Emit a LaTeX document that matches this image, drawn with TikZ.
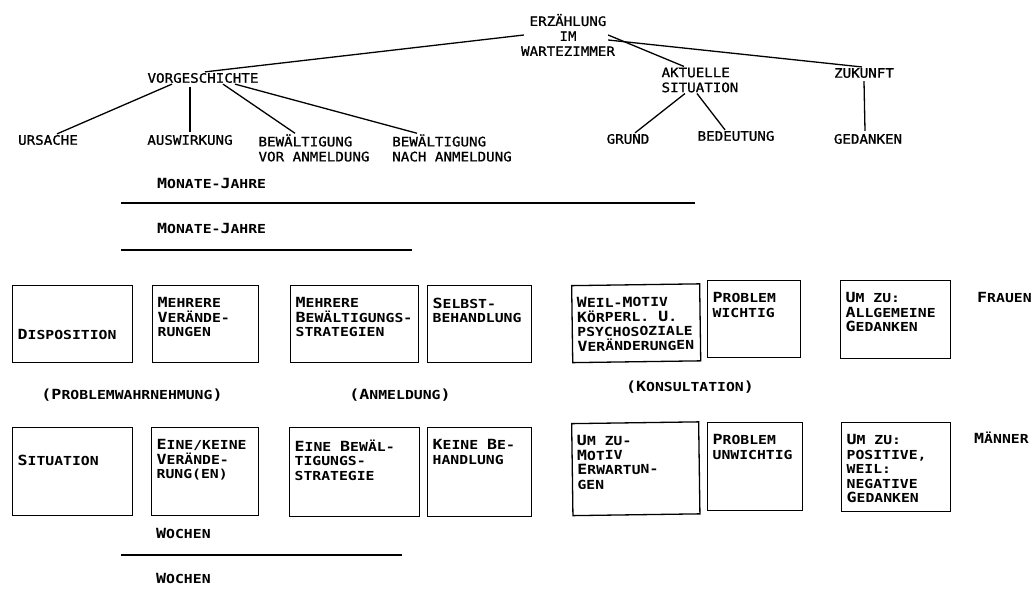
\documentclass[tikz,border=0pt]{standalone}
\usepackage{fontspec}
\usepackage{tikz}
\usetikzlibrary{positioning, calc}
\newfontfamily\treefont[FakeStretch=1.09, FakeBold=1]{DejaVu Sans Mono}
\newfontfamily\boxfont[FakeStretch=1.19]{DejaVu Sans Mono}
% fake small caps: bigger first letters
\newcommand{\C}[1]{{\fontsize{14}{14.5}\selectfont #1}}
% box content: total width, total height, text
\newcommand{\boxtext}[3]{\parbox[c][\dimexpr#2pt-24pt][t]{\dimexpr#1pt-10pt}{\raggedright #3}}

\begin{document}
\begin{tikzpicture}[x=1pt, y=-1pt,
    tree/.style={font=\treefont\fontsize{13}{15}\selectfont, inner sep=1pt},
    label/.style={font=\boxfont\bfseries\fontsize{12.4}{14.5}\selectfont, inner sep=1pt},
    box/.style={draw, line width=1.3pt, anchor=north west, inner xsep=5pt, inner ysep=12pt,
                font=\boxfont\bfseries\fontsize{12.4}{14.5}\selectfont},
    edge/.style={line width=1.3pt},
    rule/.style={line width=1.4pt}]
  \useasboundingbox (0,0) rectangle (1034,591);

  % Tree
  \node[tree, align=center] (root) at (568,35) {ERZÄHLUNG\\IM\\WARTEZIMMER};
  \node[tree] (vorg) at (203,78) {VORGESCHICHTE};
  \node[tree, align=left] (akt) at (700,80) {AKTUELLE\\SITUATION};
  \node[tree] (zuk) at (864,73) {ZUKUNFT};

  \node[tree] (urs) at (48,140) {URSACHE};
  \node[tree] (ausw) at (190,140) {AUSWIRKUNG};
  \node[tree, align=left] (bewvor) at (314,148) {BEWÄLTIGUNG\\VOR ANMELDUNG};
  \node[tree, align=left] (bewnach) at (452,148) {BEWÄLTIGUNG\\NACH ANMELDUNG};
  \node[tree] (grund) at (628,139) {GRUND};
  \node[tree] (bed) at (736,136) {BEDEUTUNG};
  \node[tree] (ged) at (868,139) {GEDANKEN};

  \draw[edge] ([xshift=4pt]root.west) -- ([xshift=2pt]vorg.north);
  \draw[edge] ([xshift=-8pt]root.east) -- ([xshift=-16pt]akt.north);
  \draw[edge] ([xshift=-8pt,yshift=-5pt]root.east) -- ([xshift=-2pt]zuk.north);

  \draw[edge] ([xshift=-31pt]vorg.south) -- ([xshift=9pt]urs.north);
  \draw[edge] ([xshift=-13pt,yshift=-3pt]vorg.south) -- ([yshift=2pt]ausw.north);
  \draw[edge] ([xshift=20pt]vorg.south) -- ([xshift=-19pt]bewvor.north);
  \draw[edge] ([xshift=32pt]vorg.south) -- ([xshift=-35pt]bewnach.north);
  \draw[edge] ([xshift=-15pt]akt.south) -- ([xshift=7pt]grund.north);
  \draw[edge] ([xshift=-3pt]akt.south) -- ([xshift=-11pt]bed.north);
  \draw[edge] ([yshift=-2pt]zuk.south) -- ([xshift=-3pt,yshift=2pt]ged.north);

  % Time spans
  \node[label, anchor=west] (mj1) at (156,183) {\C{M}ONATE-\C{J}AHRE};
  \coordinate (r1a) at (121,203);
  \coordinate (r1b) at (695,203);
  \draw[rule] (r1a) -- (r1b);
  \node[label, anchor=west] (mj2) at (156,228) {\C{M}ONATE-\C{J}AHRE};
  \coordinate (r2a) at (121,250);
  \coordinate (r2b) at (412,250);
  \draw[rule] (r2a) -- (r2b);

  % Frauen
  \node[box] (disp) at (12,285) {\boxtext{120}{77}{\vspace*{32pt}\C{D}ISPOSITION}};
  \node[box] (fver) at (152,285) {\boxtext{106}{77}{\C{M}EHRERE\\\C{V}ERÄNDE-\\RUNGEN}};
  \node[box] (fbew) at (290,285) {\boxtext{128}{77}{\C{M}EHRERE\\\C{B}EWÄLTIGUNGS-\\STRATEGIEN}};
  \node[box] (fbeh) at (427,285) {\boxtext{104}{77}{\C{S}ELBST-\\BEHANDLUNG}};
  \node[box, rotate=0.8] (fmot) at (571,285) {\boxtext{128}{77}{\C{W}EIL-\C{M}OTIV\\\C{K}ÖRPERL. \C{U}.\\PSYCHOSOZIALE\\\C{V}ERÄNDERUNGEN}};
  \node[box] (fpro) at (707,280) {\boxtext{93}{77}{\C{P}ROBLEM\\WICHTIG}};
  \node[box] (fged) at (840,280) {\boxtext{110}{78}{\C{U}M ZU:\\\C{A}LLGEMEINE\\\C{G}EDANKEN}};
  \node[label, anchor=west] (frauen) at (976,297) {\C{F}RAUEN};

  % Phases
  \node[label] (pwahr) at (132,395) {\C{(P}ROBLEMWAHRNEHMUNG\C{)}};
  \node[label] (panm) at (400,395) {\C{(A}NMELDUNG\C{)}};
  \node[label] (pkons) at (690,387) {\C{(K}ONSULTATION\C{)}};

  % Maenner
  \node[box] (sit) at (12,427) {\boxtext{120}{88}{\vspace*{15pt}\C{S}ITUATION}};
  \node[box] (mver) at (151,427) {\boxtext{107}{88}{\C{E}INE/KEINE\\\C{V}ERÄNDE-\\RUNG(EN)}};
  \node[box] (mbew) at (289,427) {\boxtext{130}{89}{\C{E}INE \C{B}EWÄL-\\TIGUNGS-\\STRATEGIE}};
  \node[box] (mbeh) at (427,427) {\boxtext{104}{89}{\C{K}EINE \C{B}E-\\HANDLUNG}};
  \node[box, rotate=0.8] (mmot) at (571,423) {\boxtext{127}{92}{\C{U}M ZU-\\\C{M}OTIV\\\C{E}RWARTUN-\\GEN}};
  \node[box] (mpro) at (707,422) {\boxtext{95}{88}{\C{P}ROBLEM\\UNWICHTIG}};
  \node[box] (mged) at (841,422) {\boxtext{109}{89}{\C{U}M ZU:\\POSITIVE,\\WEIL:\\NEGATIVE\\\C{G}EDANKEN}};
  \node[label, anchor=west] (maenner) at (973,438) {\C{M}ÄNNER};

  \node[label, anchor=west] (wo1) at (155,533) {\C{W}OCHEN};
  \coordinate (r3a) at (121,555);
  \coordinate (r3b) at (402,555);
  \draw[rule] (r3a) -- (r3b);
  \node[label, anchor=west] (wo2) at (155,578) {\C{W}OCHEN};
\end{tikzpicture}
\end{document}
